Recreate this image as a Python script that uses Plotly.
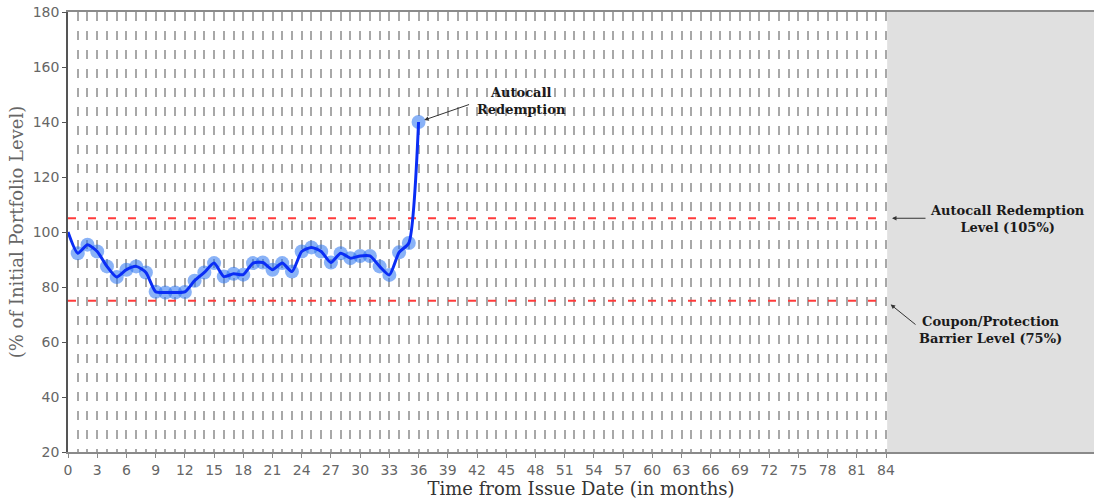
import plotly.graph_objects as go

# ---- data ----
months = list(range(0, 37))
portfolio = [100.0, 92.3, 95.4, 92.9, 87.5, 83.6, 86.3, 87.5, 85.3, 78.3, 78.0, 78.0, 78.2,
             82.3, 85.3, 88.7, 83.8, 84.8, 84.5, 88.7, 88.9, 86.3, 88.7, 85.6, 92.9,
             94.4, 92.9, 88.9, 92.3, 90.5, 91.3, 91.3, 87.5, 84.4, 92.6, 96.0, 140.0]
obs_months = months[1:]
obs_values = portfolio[1:]

autocall_level = 105
barrier_level = 75
term_months = 84
x_max = 105.36

x_tick_vals = list(range(0, 85, 3))
y_tick_vals = list(range(20, 181, 20))

serif = "DejaVu Serif"
sans = "DejaVu Sans"

fig = go.Figure()

# reference levels
fig.add_trace(go.Scatter(x=[0, term_months], y=[autocall_level, autocall_level], mode="lines",
                         line=dict(color="#ff3b3b", width=2, dash="8px,12px"),
                         hoverinfo="skip", showlegend=False))
fig.add_trace(go.Scatter(x=[0, term_months], y=[barrier_level, barrier_level], mode="lines",
                         line=dict(color="#ff3b3b", width=2, dash="8px,12px"),
                         hoverinfo="skip", showlegend=False))

# observation markers
fig.add_trace(go.Scatter(x=obs_months, y=obs_values, mode="markers",
                         marker=dict(size=14, color="rgba(40,115,240,0.55)", line=dict(width=0)),
                         showlegend=False))
# portfolio path
fig.add_trace(go.Scatter(x=months, y=portfolio, mode="lines",
                         line=dict(color="#0a2df5", width=3, shape="spline", smoothing=0.6),
                         showlegend=False))

# shaded region after term
fig.add_shape(type="rect", xref="x", yref="paper", x0=term_months + 0.12, x1=x_max, y0=0, y1=1,
              fillcolor="#e0e0e0", line=dict(width=0), layer="above")

ann_font = dict(family=serif, size=13, color="#1a1a1a")
# Autocall redemption point
fig.add_annotation(x=months[-1], y=portfolio[-1], text="", showarrow=True, ax=52, ay=-18,
                   arrowhead=2, arrowsize=0.9, arrowwidth=1, arrowcolor="#333", standoff=6)
fig.add_annotation(x=months[-1], y=portfolio[-1], text="<b>Autocall<br>Redemption</b>",
                   showarrow=False, xshift=103, yshift=21, font=ann_font, align="center")
# Autocall level
fig.add_annotation(x=term_months, y=autocall_level, text="", showarrow=True, ax=41, ay=0,
                   arrowhead=2, arrowsize=0.9, arrowwidth=1, arrowcolor="#333", standoff=6)
fig.add_annotation(x=term_months, y=autocall_level, text="<b>Autocall Redemption<br>Level (105%)</b>",
                   showarrow=False, xshift=121, yshift=-1, font=ann_font, align="center")
# Barrier level
fig.add_annotation(x=term_months, y=barrier_level, text="", showarrow=True, ax=31, ay=25,
                   arrowhead=2, arrowsize=0.9, arrowwidth=1, arrowcolor="#333", standoff=6)
fig.add_annotation(x=term_months, y=barrier_level, text="<b>Coupon/Protection<br>Barrier Level (75%)</b>",
                   showarrow=False, xshift=104, yshift=-29, font=ann_font, align="center")

grid = dict(color="#a8a8a8", width=2, dash="9px,10px")

fig.update_layout(
    width=1094, height=503,
    margin=dict(l=68, r=0, t=12, b=51, autoexpand=False),
    paper_bgcolor="white", plot_bgcolor="white",
    xaxis=dict(range=[0, x_max], tickmode="array", tickvals=x_tick_vals,
               ticktext=[str(v) for v in x_tick_vals], automargin=False,
               showgrid=True, gridcolor=grid["color"], gridwidth=grid["width"], griddash=grid["dash"],
               minor=dict(dtick=1, tick0=0, showgrid=True, gridcolor=grid["color"],
                          gridwidth=grid["width"], griddash=grid["dash"]),
               showline=True, linecolor="#8a8a8a", linewidth=1.5, mirror=True,
               ticks="outside", ticklen=4, tickcolor="#8a8a8a",
               tickfont=dict(family=sans, size=14, color="#666"),
               title=dict(text="Time from Issue Date (in months)", standoff=2,
                          font=dict(family=serif, size=18, color="#333")),
               zeroline=False),
    yaxis=dict(range=[20, 180], tickmode="array", tickvals=y_tick_vals, automargin=False,
               showgrid=False, zeroline=False,
               showline=True, linecolor="#555", linewidth=1.5,
               ticks="outside", ticklen=4, tickcolor="#555",
               tickfont=dict(family=sans, size=14, color="#666"),
               title=dict(text="(% of Initial Portfolio Level)", standoff=4,
                          font=dict(family=serif, size=18, color="#666"))),
)

fig.write_html("out.html", config={"displayModeBar": False},
               post_script="document.body.style.margin='0';document.body.style.overflow='hidden';")
